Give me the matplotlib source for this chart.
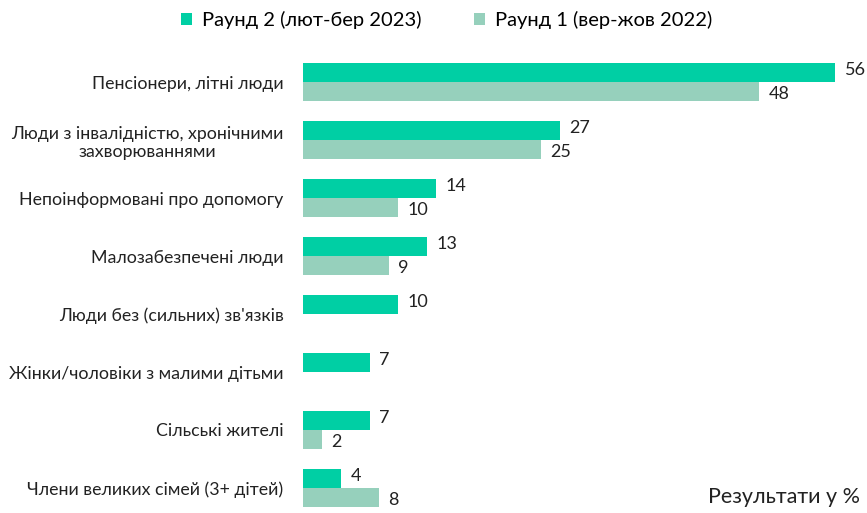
import matplotlib
matplotlib.use("Agg")
import matplotlib.pyplot as plt
import numpy as np
from matplotlib.patches import Patch

plt.rcParams['font.family'] = ['Lato', 'DejaVu Sans']

categories = [
    "Пенсіонери, літні люди",
    "Люди з інвалідністю, хронічними\nзахворюваннями",
    "Непоінформовані про допомогу",
    "Малозабезпечені люди",
    "Люди без (сильних) зв'язків",
    "Жінки/чоловіки з малими дітьми",
    "Сільські жителі",
    "Члени великих сімей (3+ дітей)",
]
round2 = [56, 27, 14, 13, 10, 7, 7, 4]
round1 = [48, 25, 10, 9, None, None, 2, 8]
series_names = ["Раунд 2 (лют-бер 2023)", "Раунд 1 (вер-жов 2022)"]
colors = ["#00CFA4", "#96D0BC"]

W, H = 867, 513
fig = plt.figure(figsize=(W / 100, H / 100), dpi=100)
top_px = 82 - 29
bot_px = 488 + 29
ax = fig.add_axes([303 / W, 1 - bot_px / H, (858 - 303) / W, (bot_px - top_px) / H])

n = len(categories)
y = np.arange(n)
bh = 0.32
for i in range(n):
    v2 = round2[i]
    ax.barh(y[i] - bh / 2, v2, height=bh, color=colors[0], edgecolor='none')
    ax.text(v2 + 1.0, y[i] - bh / 2 - 0.05, str(v2), va='center', ha='left',
            fontsize=13, color='#222222')
    v1 = round1[i]
    if v1 is not None:
        ax.barh(y[i] + bh / 2, v1, height=bh, color=colors[1], edgecolor='none')
        ax.text(v1 + 1.0, y[i] + bh / 2 + 0.05, str(v1), va='center', ha='left',
                fontsize=13, color='#222222')

ax.set_xlim(0, 58.4)
ax.set_ylim(n - 0.5, -0.5)
ax.set_yticks(y)
ax.set_yticklabels(categories, fontsize=12.8, color='#222222', ha='right',
                   multialignment='center')
ax.tick_params(axis='y', length=0, pad=14)
ax.set_xticks([])
for s in ax.spines.values():
    s.set_visible(False)

handles = [Patch(facecolor=c, edgecolor='none') for c in colors]
fig.legend(handles, series_names, loc='center', bbox_to_anchor=(447 / W, 1 - 20 / H),
           ncol=2, frameon=False, fontsize=14.5, handlelength=0.55, handleheight=0.55,
           handletextpad=0.5, columnspacing=2.6)

fig.text(860 / W, 1 - 497 / H, "Результати у %", ha='right', va='center',
         fontsize=15.5, color='#222222')

fig.savefig("out.png", dpi=100)
